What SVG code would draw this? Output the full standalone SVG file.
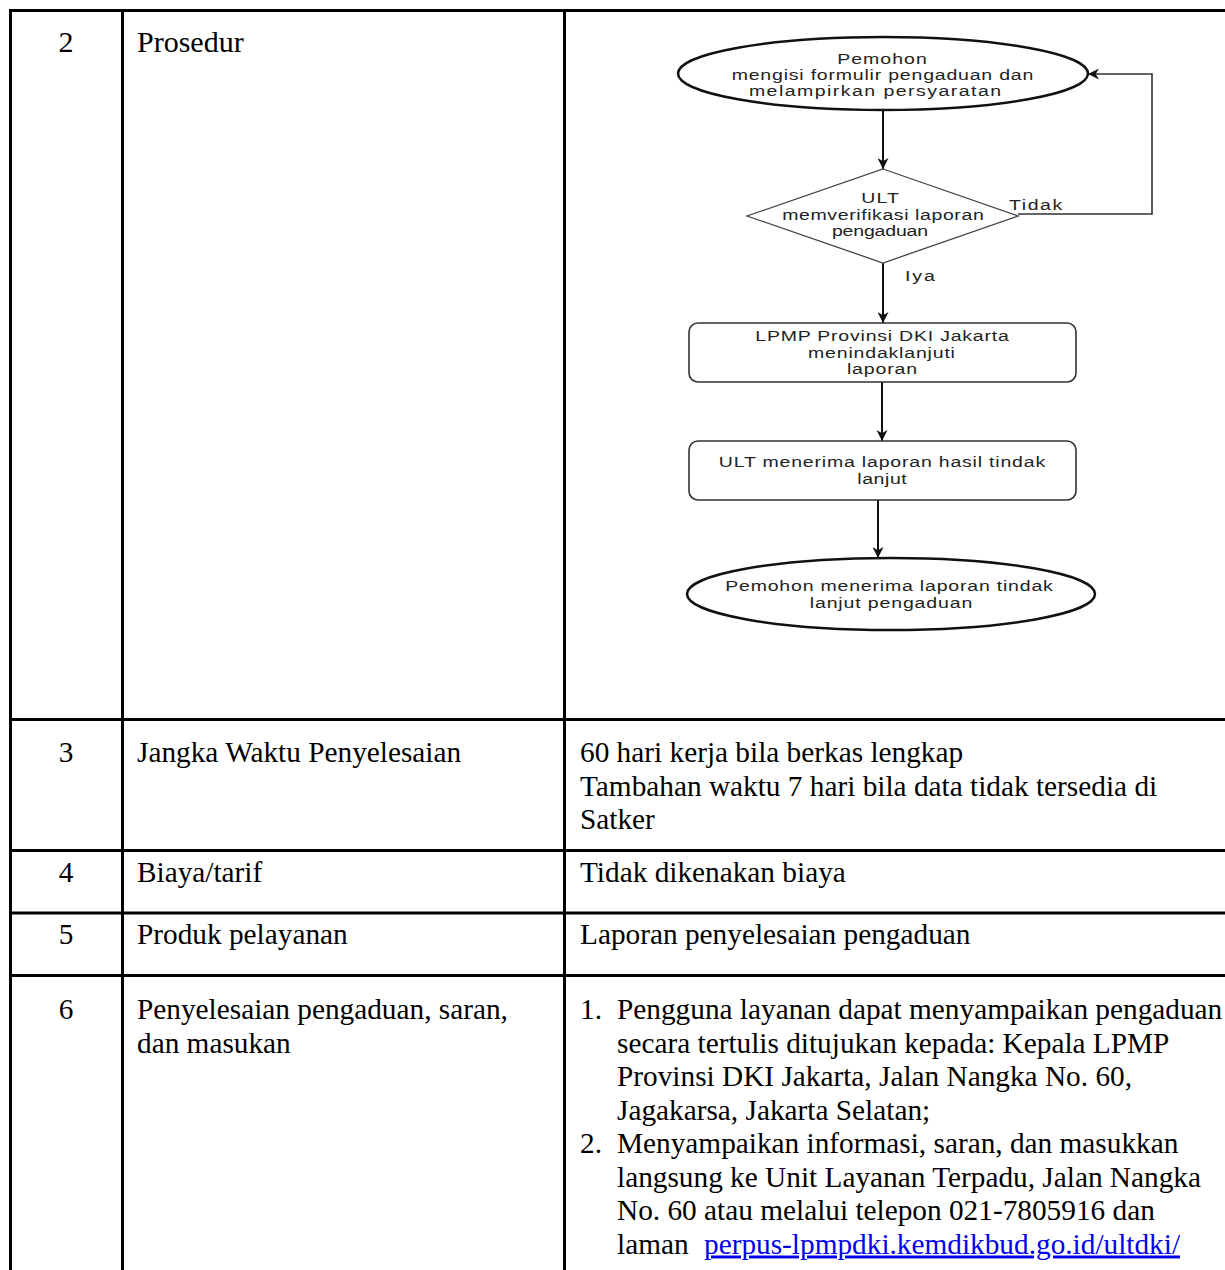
<svg xmlns="http://www.w3.org/2000/svg" width="1225" height="1270" viewBox="0 0 1225 1270">
<style>
.t{font-family:"Liberation Serif","Times New Roman",serif;font-size:29.3px;fill:#000}
.t2{font-family:"Liberation Serif","Times New Roman",serif;font-size:30px;fill:#000}
.c{text-anchor:middle}
.lnk{fill:#0000ee;text-decoration:underline}
.grid{stroke:#000;stroke-width:3;fill:none}
.f{font-family:"Liberation Sans",Arial,sans-serif;font-size:15px;fill:#222;text-anchor:middle}
.fl{font-family:"Liberation Sans",Arial,sans-serif;font-size:15px;fill:#222}
.term{fill:#fff;stroke:#111;stroke-width:2.5}
.proc{fill:#fff;stroke:#333;stroke-width:1.6}
.dec{fill:#fff;stroke:#444;stroke-width:1.3}
.edge{stroke:#111;stroke-width:2;fill:none}
.edge2{stroke:#333;stroke-width:1.6;fill:none}
</style>
<defs>
<marker id="ah" viewBox="0 0 10 10" refX="10" refY="5" markerWidth="11" markerHeight="11" markerUnits="userSpaceOnUse" orient="auto">
<path d="M0,0 L10,5 L0,10 L3,5 z" fill="#111"/>
</marker>
</defs>
<rect width="1225" height="1270" fill="#fff"/>
<g id="table">
<path class="grid" d="M9,10.5 H1225 M9,719.5 H1225 M9,850.5 H1225 M9,913 H1225 M9,975.5 H1225 M10.5,9 V1270 M122.5,9 V1270 M564.5,9 V1270"/>
</g>
<g id="row2">
<text class="t2 c" x="66" y="52">2</text>
<text class="t2" x="137" y="52">Prosedur</text>
</g>
<g id="row3">
<text class="t c" x="66" y="762">3</text>
<text class="t" x="137" y="762">Jangka Waktu Penyelesaian</text>
<text class="t" x="580" y="762">60 hari kerja bila berkas lengkap</text>
<text class="t" x="580" y="796">Tambahan waktu 7 hari bila data tidak tersedia di</text>
<text class="t" x="580" y="829">Satker</text>
</g>
<g id="row4">
<text class="t c" x="66" y="882">4</text>
<text class="t" x="137" y="882">Biaya/tarif</text>
<text class="t" x="580" y="882">Tidak dikenakan biaya</text>
</g>
<g id="row5">
<text class="t c" x="66" y="944">5</text>
<text class="t" x="137" y="944">Produk pelayanan</text>
<text class="t" x="580" y="944">Laporan penyelesaian pengaduan</text>
</g>
<g id="row6">
<text class="t c" x="66" y="1019">6</text>
<text class="t" x="137" y="1019">Penyelesaian pengaduan, saran,</text>
<text class="t" x="137" y="1052.5">dan masukan</text>
<text class="t" x="580" y="1019">1.</text>
<text class="t" x="617" y="1019">Pengguna layanan dapat menyampaikan pengaduan</text>
<text class="t" x="617" y="1052.5">secara tertulis ditujukan kepada: Kepala LPMP</text>
<text class="t" x="617" y="1086">Provinsi DKI Jakarta, Jalan Nangka No. 60,</text>
<text class="t" x="617" y="1119.5">Jagakarsa, Jakarta Selatan;</text>
<text class="t" x="580" y="1153">2.</text>
<text class="t" x="617" y="1153">Menyampaikan informasi, saran, dan masukkan</text>
<text class="t" x="617" y="1186.5">langsung ke Unit Layanan Terpadu, Jalan Nangka</text>
<text class="t" x="617" y="1220">No. 60 atau melalui telepon 021-7805916 dan</text>
<text class="t" x="617" y="1253.5">laman</text>
<text class="t lnk" x="704" y="1253.5">perpus-lpmpdki.kemdikbud.go.id/ultdki/</text>
</g>
<g id="connectors">
<path class="edge" d="M883,110 V169" marker-end="url(#ah)"/>
<path class="edge" d="M883,263 V323" marker-end="url(#ah)"/>
<path class="edge" d="M882,382 V441" marker-end="url(#ah)"/>
<path class="edge" d="M878,500 V558" marker-end="url(#ah)"/>
<path class="edge2" d="M1018,214 H1152 V74 H1088" marker-end="url(#ah)"/>
<text class="fl" transform="translate(1009,210) scale(1.3,1)" textLength="41" lengthAdjust="spacing">Tidak</text>
<text class="fl" transform="translate(905,281) scale(1.3,1)" textLength="23" lengthAdjust="spacing">Iya</text>
</g>
<g id="start">
<ellipse class="term" cx="883" cy="73.5" rx="205" ry="36.5"/>
<text class="f" transform="translate(882,64) scale(1.3,1)" textLength="69" lengthAdjust="spacing">Pemohon</text>
<text class="f" transform="translate(882.5,80) scale(1.3,1)" textLength="232" lengthAdjust="spacing">mengisi formulir pengaduan dan</text>
<text class="f" transform="translate(875,96) scale(1.3,1)" textLength="194" lengthAdjust="spacing">melampirkan persyaratan</text>
</g>
<g id="verify">
<polygon class="dec" points="883,169 1018,216 883,263 747,216"/>
<text class="f" transform="translate(880,203) scale(1.3,1)" textLength="29" lengthAdjust="spacing">ULT</text>
<text class="f" transform="translate(883,220) scale(1.3,1)" textLength="155" lengthAdjust="spacing">memverifikasi laporan</text>
<text class="f" transform="translate(880,236) scale(1.3,1)" textLength="74" lengthAdjust="spacing">pengaduan</text>
</g>
<g id="followup">
<rect class="proc" x="689" y="323" width="387" height="59" rx="9"/>
<text class="f" transform="translate(882,341) scale(1.3,1)" textLength="195" lengthAdjust="spacing">LPMP Provinsi DKI Jakarta</text>
<text class="f" transform="translate(881.5,358) scale(1.3,1)" textLength="113" lengthAdjust="spacing">menindaklanjuti</text>
<text class="f" transform="translate(882,374) scale(1.3,1)" textLength="54" lengthAdjust="spacing">laporan</text>
</g>
<g id="receive">
<rect class="proc" x="689" y="441" width="387" height="59" rx="9"/>
<text class="f" transform="translate(882,467) scale(1.3,1)" textLength="251" lengthAdjust="spacing">ULT menerima laporan hasil tindak</text>
<text class="f" transform="translate(882,484) scale(1.3,1)" textLength="38" lengthAdjust="spacing">lanjut</text>
</g>
<g id="end">
<ellipse class="term" cx="891" cy="594" rx="204" ry="36"/>
<text class="f" transform="translate(889,591) scale(1.3,1)" textLength="252" lengthAdjust="spacing">Pemohon menerima laporan tindak</text>
<text class="f" transform="translate(891,608) scale(1.3,1)" textLength="125" lengthAdjust="spacing">lanjut pengaduan</text>
</g>
</svg>
